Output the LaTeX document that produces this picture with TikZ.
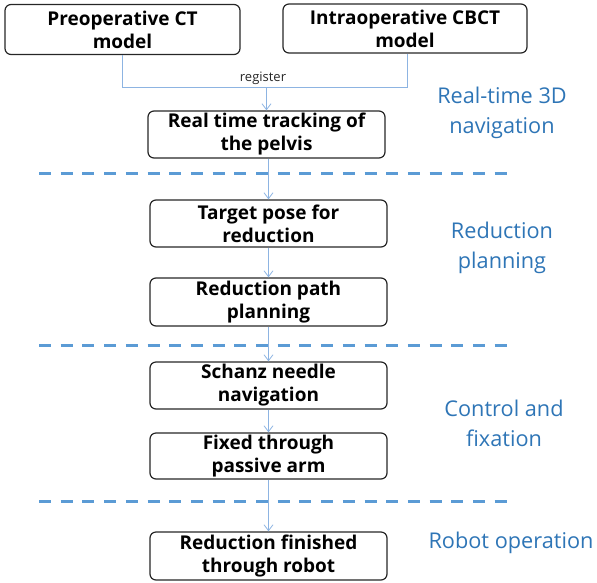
\documentclass[tikz,border=0pt]{standalone}
\usepackage{fontspec}
\setmainfont{Open Sans}
\usetikzlibrary{arrows.meta}
\definecolor{labelblue}{HTML}{2E75B6}
\definecolor{dashblue}{HTML}{5B9BD5}
\definecolor{linkblue}{HTML}{8DB4E2}
\tikzset{
  stepbox/.style={draw=black!85, line width=1.2pt, rounded corners=6pt, align=center,
    font=\fontsize{19}{23}\selectfont\bfseries, inner sep=0pt},
  link/.style={draw=linkblue, line width=0.8pt},
  arrowlink/.style={link, -{Straight Barb[length=6pt,width=9pt,line width=0.8pt]}},
  phase/.style={text=labelblue, align=center, font=\fontsize{21.7}{30}\selectfont},
  sep/.style={draw=dashblue, line width=3pt, dash pattern=on 12pt off 9.7pt},
}
\begin{document}
\begin{tikzpicture}[x=1pt,y=-1pt]
\useasboundingbox (0,0) rectangle (597,582);
\node[stepbox, minimum width=235pt, minimum height=50pt] (pre) at (122.5,29.5) {Preoperative CT\\model};
\node[stepbox, minimum width=244pt, minimum height=49pt] (intra) at (405,28.5) {Intraoperative CBCT\\model};
\node[stepbox, minimum width=237pt, minimum height=47pt] (track) at (266.5,134.5) {Real time tracking of\\the pelvis};
\node[stepbox, minimum width=237pt, minimum height=47pt] (target) at (268.5,223.5) {Target pose for\\reduction};
\node[stepbox, minimum width=237pt, minimum height=48pt] (path) at (268.5,302) {Reduction path\\planning};
\node[stepbox, minimum width=237pt, minimum height=47pt] (schanz) at (268.5,385.5) {Schanz needle\\navigation};
\node[stepbox, minimum width=237pt, minimum height=46pt] (fixed) at (268.5,456) {Fixed through\\passive arm};
\node[stepbox, minimum width=237pt, minimum height=48pt] (robot) at (268.5,556) {Reduction finished\\through robot};

\coordinate (j1) at (122.5,87);
\coordinate (j2) at (407,87);
\coordinate (jm) at (266.5,87);
\draw[link] (pre.south -| j1) -- (j1) -- (j2) -- (intra.south -| j2);
\draw[arrowlink] (jm) -- (track.north);
\node[font=\fontsize{13}{14}\selectfont, text=black!85] (reg) at (263,78) {register};

\draw[arrowlink] (track.south -| target.north) -- (target.north);
\draw[arrowlink] (target) -- (path);
\draw[arrowlink] (path) -- (schanz);
\draw[arrowlink] (schanz) -- (fixed);
\draw[arrowlink] (fixed) -- (robot);

\coordinate (d1a) at (39,173); \coordinate (d1b) at (511,173);
\coordinate (d2a) at (39,345); \coordinate (d2b) at (511,345);
\coordinate (d3a) at (39,501); \coordinate (d3b) at (511,501);
\draw[sep] (d1a) -- (d1b);
\draw[sep] (d2a) -- (d2b);
\draw[sep] (d3a) -- (d3b);

\node[phase] (p1) at (502,113) {Real-time 3D\\navigation};
\node[phase] (p2) at (502,248) {Reduction\\planning};
\node[phase] (p3) at (504,423) {Control and\\fixation};
\node[phase] (p4) at (511,543) {Robot operation};
\end{tikzpicture}
\end{document}
